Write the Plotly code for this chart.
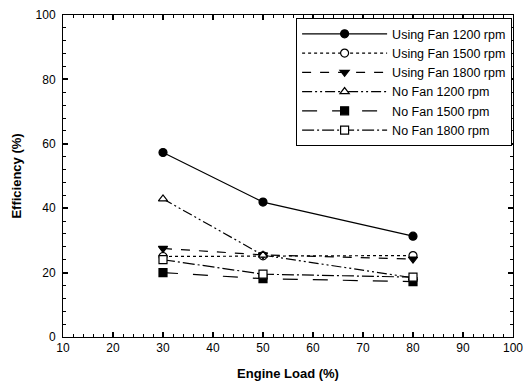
import plotly.graph_objects as go

load = [30, 50, 80]
using_fan_1200 = [57.3, 41.9, 31.3]
using_fan_1500 = [25.0, 25.2, 25.3]
using_fan_1800 = [27.5, 25.5, 24.2]
no_fan_1200 = [42.9, 25.4, 18.4]
no_fan_1500 = [20.0, 18.1, 17.2]
no_fan_1800 = [24.0, 19.5, 18.6]

series = [
    ("Using Fan 1200 rpm", using_fan_1200, "solid", "circle", "black"),
    ("Using Fan 1500 rpm", using_fan_1500, "dot", "circle", "white"),
    ("Using Fan 1800 rpm", using_fan_1800, "dash", "triangle-down", "black"),
    ("No Fan 1200 rpm", no_fan_1200, "10px,3px,2px,3px,2px,3px", "triangle-up", "white"),
    ("No Fan 1500 rpm", no_fan_1500, "longdash", "square", "black"),
    ("No Fan 1800 rpm", no_fan_1800, "12px,3px,2px,3px", "square", "white"),
]

fig = go.Figure()
for name, ys, dash, sym, fill in series:
    fig.add_trace(go.Scatter(
        x=load, y=ys, name=name, mode="lines+markers",
        line=dict(color="black", width=1.2, dash=dash),
        marker=dict(symbol=sym, size=8, color=fill,
                    line=dict(color="black", width=1.2)),
    ))

axis_common = dict(
    showline=True, linecolor="black", linewidth=1, mirror="ticks",
    ticks="inside", tickcolor="black", tickwidth=2, ticklen=5,
    showgrid=False, zeroline=False, automargin=False,
    ticklabeloverflow="allow",
    tickfont=dict(family="Liberation Sans, Arial", size=12, color="black"),
)

fig.update_xaxes(
    range=[10, 100], dtick=10, tick0=10,
    minor=dict(dtick=2, ticks="inside", ticklen=3, tickcolor="black", tickwidth=1),
    title=dict(text="<b>Engine Load (%)</b>", font=dict(family="Liberation Sans, Arial", size=13, color="black"), standoff=14),
    **axis_common,
)
fig.update_yaxes(
    range=[0, 100], dtick=20,
    minor=dict(dtick=4, ticks="inside", ticklen=3, tickcolor="black", tickwidth=1),
    title=dict(text="<b>Efficiency (%)</b>", font=dict(family="Liberation Sans, Arial", size=13, color="black"), standoff=11),
    ticklabelstandoff=4,
    **axis_common,
)

fig.update_layout(
    width=523, height=389,
    margin=dict(l=63, r=10, t=15, b=52),
    paper_bgcolor="white", plot_bgcolor="white",
    legend=dict(
        x=0.998, y=0.99, xanchor="right", yanchor="top",
        bgcolor="white", bordercolor="black", borderwidth=1,
        font=dict(family="Liberation Sans, Arial", size=12.5, color="black"),
        tracegroupgap=0, itemwidth=85,
    ),
)

fig.write_html("out.html")
